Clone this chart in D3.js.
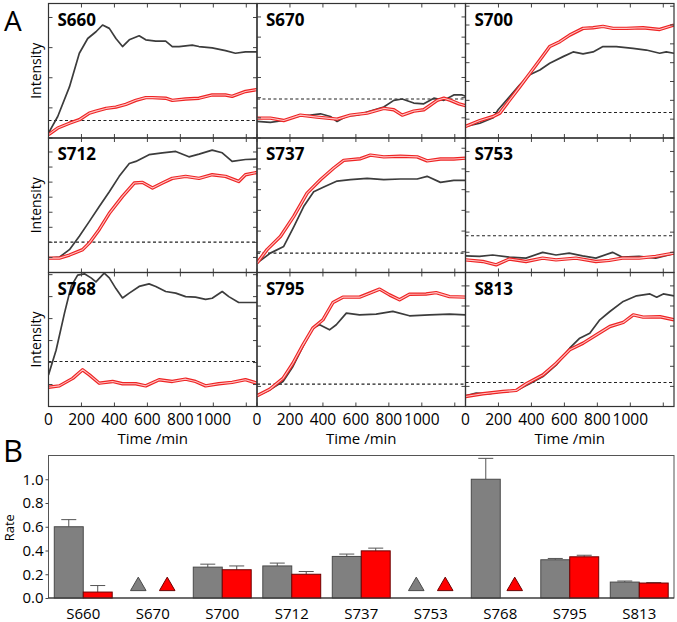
<!DOCTYPE html>
<html><head><meta charset="utf-8">
<script src="https://cdn.jsdelivr.net/npm/d3@7"></script>
<style>body{margin:0;background:#fff}svg{display:block}text{font-family:"Open Sans",sans-serif;fill:#000}</style>
</head><body><svg id="c" width="677" height="622"></svg>
<script>
// ---------- Panel A data (time in min, intensity normalised 0-100 per panel) ----------
const panelNames = ["S660","S670","S700","S712","S737","S753","S768","S795","S813"];
const timeTicks = [0,200,400,600,800,1000,1200];
const timeTickLabels = ["0","200","400","600","800","1000",""];
const thresholds = [13, 29, 19, 22.6, 14.4, 27.3, 33.6, 16.7, 17.9];
const yTickSteps = [22.4, 15, 14, 11.2, 15.4, 15, 16.4, 15, 15];

const grayS660 = [[0,3.7],[56,16],[127,38],[187,63],[238,74],[288,79],[328,84],[369,81.5],[409,74],[449,68],[490,73],[550,76],[590,73],[651,72],[711,72],[751,68],[792,68],[872,69],[913,68],[993,67],[1074,65],[1134,63],[1195,64],[1265,64]];
const redS660 = [[0,2.5],[56,7.4],[127,11],[187,13.6],[248,18.5],[288,20],[349,22],[409,23],[469,25],[530,28],[590,30],[631,30],[711,29.6],[751,28],[832,29],[913,29.6],[993,32],[1074,32],[1114,31],[1195,34.6],[1265,36]];
const grayS670 = [[0,12.3],[81,11.6],[162,13],[243,16],[324,17],[385,18],[445,16],[486,12.3],[547,16.5],[607,17],[688,20],[769,23],[830,28],[881,29],[951,26],[1012,25.4],[1073,29.6],[1134,28],[1194,32],[1245,32],[1265,31]];
const redS670 = [[0,14.8],[81,14.8],[162,13],[263,17],[364,15.5],[486,14],[567,17],[668,18.5],[769,22],[830,21],[881,17],[951,20],[1012,21],[1093,28],[1134,29.6],[1174,28],[1225,25.4],[1265,24]];
const grayS700 = [[0,8.6],[87,11],[168,15],[198,21],[269,31],[329,39.5],[390,47],[451,50.6],[511,55.6],[592,60.5],[653,64],[713,62.5],[774,64],[834,68],[915,68],[1016,66.7],[1097,65.4],[1178,63],[1218,64],[1265,63]];
const redS700 = [[0,8.6],[87,13],[168,16],[208,18.5],[269,28.4],[329,38],[390,48],[451,58],[511,68],[572,71.6],[632,76.5],[713,81.5],[774,82],[834,83],[895,81.5],[976,81.5],[1077,82],[1178,80.7],[1265,84]];
const grayS712 = [[0,10.7],[66,11.4],[127,17],[187,27],[248,38],[308,49],[369,60],[429,71.5],[490,81],[530,82.6],[610,87.6],[691,89],[772,90],[852,86],[913,88],[993,91],[1054,89],[1114,82.6],[1195,84],[1265,84.4]];
const redS712 = [[0,10.7],[66,10.7],[127,13],[207,17],[248,22],[308,32],[369,44],[449,56.6],[520,66.5],[570,67],[631,62.8],[691,66.5],[751,70],[832,71.5],[913,70],[993,72.7],[1074,71.5],[1154,67.7],[1195,72.7],[1265,74.4]];
const grayS737 = [[0,7],[81,14.4],[162,19.4],[223,34],[283,49],[344,60],[405,63.5],[486,68],[567,69],[668,70],[769,69],[870,69.5],[972,69.5],[1032,71.5],[1113,67],[1194,68.5],[1265,68.5]];
const redS737 = [[0,7],[61,17],[142,26.8],[223,41.7],[304,59],[385,69],[466,77.7],[526,83.4],[628,84.6],[688,87.3],[769,86],[870,86.4],[972,86],[1032,83],[1113,84.4],[1194,84.4],[1265,85]];
const grayS753 = [[0,12.4],[85,12],[165,13],[266,11.4],[367,10.7],[468,15],[549,13],[629,14.4],[710,12.4],[791,10.7],[892,15],[952,11.4],[1053,12],[1154,10.7],[1265,14]];
const redS753 = [[0,9.4],[105,8.2],[186,5.7],[266,10],[367,8.2],[468,10.7],[549,9.4],[670,10.7],[791,8.2],[872,9],[952,10.7],[1053,10.7],[1154,12],[1265,14.4]];
const grayS768 = [[0,23.6],[46,42],[97,69.7],[137,89.6],[177,98],[218,99],[258,96],[288,93],[338,99.5],[369,96],[409,88],[449,81],[490,84.6],[550,89.6],[610,91.5],[651,89.6],[711,85.8],[772,84.6],[832,82],[892,81.6],[953,80],[993,80.8],[1054,85.8],[1094,82],[1154,77.6],[1265,77.6]];
const redS768 = [[0,14.4],[66,15.4],[147,21],[207,27.4],[248,23.6],[308,17.4],[389,18.7],[449,17],[530,17],[590,15.4],[671,20],[751,18.7],[832,20.4],[892,18.7],[953,15.4],[1033,17],[1114,18],[1195,20],[1265,17.4]];
const grayS795 = [[0,8],[77,12.4],[158,18.7],[218,29.9],[279,44.8],[339,58.5],[380,61],[440,57.2],[481,61],[542,69.7],[622,68.4],[723,69],[824,71],[925,67.7],[1047,68.4],[1168,69],[1265,68.4]];
const redS795 = [[0,8],[77,12.9],[158,21],[218,32.3],[279,46],[339,58.5],[400,64.7],[461,77.6],[521,81.6],[622,81.6],[683,84.6],[744,87.6],[804,83.3],[865,79.6],[925,83.8],[1026,84],[1087,85],[1168,82],[1265,81.6]];
const grayS813 = [[0,8],[65,10],[146,9.5],[227,11.2],[308,12],[389,17],[470,22.4],[551,31],[632,43.5],[693,51],[754,54.7],[815,64.7],[876,70.9],[957,78.4],[1038,82.6],[1119,84],[1160,81.6],[1200,84],[1265,82.6]];
const redS813 = [[0,7.5],[105,9.5],[227,11.2],[308,12],[369,17],[470,23.6],[551,32.3],[632,42.3],[714,47.3],[795,53.5],[876,59.7],[957,62.7],[1018,68.4],[1078,66.7],[1180,67],[1265,64.7]];

const graySeries = [grayS660,grayS670,grayS700,grayS712,grayS737,grayS753,grayS768,grayS795,grayS813];
const redSeries = [redS660,redS670,redS700,redS712,redS737,redS753,redS768,redS795,redS813];

// ---------- Panel B data ----------
const rateCats = ["S660","S670","S700","S712","S737","S753","S768","S795","S813"];
const grayRate = [0.60, null, 0.26, 0.27, 0.35, null, 1.00, 0.322, 0.134];
const grayErr  = [0.06, null, 0.025, 0.024, 0.02, null, 0.176, 0.011, 0.009];
const redRate  = [0.05, null, 0.238, 0.20, 0.397, null, null, 0.347, 0.126];
const redErr   = [0.055, null, 0.032, 0.023, 0.023, null, null, 0.013, 0.004];
const grayTriangle = [false, true, false, false, false, true, false, false, false];
const redTriangle  = [false, true, false, false, false, true, true, false, false];
const triangleLevel = 0.1;
const rateTicks = [0,0.2,0.4,0.6,0.8,1.0];

const svg = d3.select("#c");
const colX = [48.5, 257, 465.5, 674];
const rowY = [3.5, 138, 272.5, 406.5];

svg.append("text").attr("x",4).attr("y",31).attr("font-size",28)
  .attr("font-family","Liberation Sans, Arial, sans-serif").text("A");
svg.append("text").attr("x",3).attr("y",462).attr("font-size",31)
  .attr("font-family","Liberation Sans, Arial, sans-serif").text("B");

const defs = svg.append("defs");

panelNames.forEach((name,i)=>{
  const c = i%3, r = Math.floor(i/3);
  const x0 = colX[c], x1 = colX[c+1], y0 = rowY[r], y1 = rowY[r+1];
  const x = d3.scaleLinear().domain([0,1265]).range([x0,x1]);
  const y = d3.scaleLinear().domain([0,100]).range([y1,y0]);
  const g = svg.append("g");
  defs.append("clipPath").attr("id","cp"+i).append("rect")
    .attr("x",x0).attr("y",y0).attr("width",x1-x0).attr("height",y1-y0);
  const pg = g.append("g").attr("clip-path","url(#cp"+i+")");
  pg.append("line").attr("x1",x0).attr("x2",x1)
    .attr("y1",y(thresholds[i])).attr("y2",y(thresholds[i]))
    .attr("stroke","#222").attr("stroke-width",1.1).attr("stroke-dasharray","3,2.5");
  const line = d3.line().x(d=>x(d[0])).y(d=>y(d[1])).curve(d3.curveLinear);
  pg.append("path").attr("d",line(graySeries[i])).attr("fill","none")
    .attr("stroke","#3c3c3c").attr("stroke-width",1.7).attr("stroke-linejoin","round");
  pg.append("path").attr("d",line(redSeries[i])).attr("fill","none")
    .attr("stroke","#ee2424").attr("stroke-width",3.4).attr("stroke-linejoin","round");
  pg.append("path").attr("d",line(redSeries[i])).attr("fill","none")
    .attr("stroke","#ffc4c4").attr("stroke-width",1.1).attr("stroke-linejoin","round");
  const tk = 4;
  timeTicks.forEach(t=>{
    g.append("line").attr("x1",x(t)).attr("x2",x(t)).attr("y1",y1).attr("y2",y1-tk).attr("stroke","#444");
    g.append("line").attr("x1",x(t)).attr("x2",x(t)).attr("y1",y0).attr("y2",y0+tk).attr("stroke","#444");
  });
  const yt = d3.range(0,100.01,yTickSteps[i]);
  yt.forEach(v=>{
    g.append("line").attr("x1",x0).attr("x2",x0+tk).attr("y1",y(v)).attr("y2",y(v)).attr("stroke","#444");
    g.append("line").attr("x1",x1).attr("x2",x1-tk).attr("y1",y(v)).attr("y2",y(v)).attr("stroke","#444");
  });
  g.append("rect").attr("x",x0).attr("y",y0).attr("width",x1-x0).attr("height",y1-y0)
    .attr("fill","none").attr("stroke","#333").attr("stroke-width",1.2);
  g.append("text").attr("x",x0+9).attr("y",y0+22).attr("font-size",17).attr("font-weight","bold").text(name);
  if(c===0){
    g.append("text").attr("transform",`translate(${x0-8},${(y0+y1)/2}) rotate(-90)`)
      .attr("text-anchor","middle").attr("font-size",14).text("Intensity");
  }
  if(r===2){
    timeTicks.forEach((t,k)=>{
      g.append("text").attr("x",x(t)).attr("y",y1+18).attr("text-anchor","middle")
        .attr("font-size",15.5).text(timeTickLabels[k]);
    });
    g.append("text").attr("x",(x0+x1)/2).attr("y",y1+37).attr("text-anchor","middle")
      .attr("font-size",15).text("Time /min");
  }
});

// ---------- Panel B ----------
const bx0 = 48.5, bx1 = 674, by0 = 455.5, by1 = 598;
const xb = d3.scaleBand().domain(rateCats).range([bx0,bx1]).paddingInner(0).paddingOuter(0);
const xs = d3.scaleBand().domain(["gray","red"]).range([0,xb.bandwidth()]).paddingInner(0).paddingOuter(0.2);
const yb = d3.scaleLinear().domain([0,1.2]).range([by1,by0]);
const gb = svg.append("g");

gb.append("rect").attr("x",bx0).attr("y",by0).attr("width",bx1-bx0).attr("height",by1-by0)
  .attr("fill","none").attr("stroke","#555").attr("stroke-width",1);

const ax = gb.append("g").attr("transform",`translate(${bx0},0)`)
  .call(d3.axisLeft(yb).tickValues(rateTicks).tickFormat(d3.format(".1f")).tickSize(3).tickPadding(2));
ax.select(".domain").remove();
ax.selectAll("line").attr("stroke","#444");
ax.selectAll("text").attr("font-size",15).attr("font-family","Open Sans, sans-serif").attr("fill","#000");

gb.append("text").attr("transform",`translate(14,${(by0+by1)/2+1}) rotate(-90)`)
  .attr("text-anchor","middle").attr("font-size",13).text("Rate");

const series = [
  {key:"gray", vals:grayRate, errs:grayErr, tri:grayTriangle, fill:"#808080", stroke:"#4a4a4a"},
  {key:"red", vals:redRate, errs:redErr, tri:redTriangle, fill:"#ff0000", stroke:"#6e0000"}
];
series.forEach(s=>{
  rateCats.forEach((cat,i)=>{
    const bx = xb(cat)+xs(s.key), bw = xs.bandwidth();
    if(s.vals[i]!==null){
      const v = s.vals[i], e = s.errs[i];
      gb.append("line").attr("x1",bx+bw/2).attr("x2",bx+bw/2).attr("y1",yb(v)).attr("y2",yb(v+e))
        .attr("stroke","#555").attr("stroke-width",1);
      gb.append("line").attr("x1",bx+bw/2-7.5).attr("x2",bx+bw/2+7.5).attr("y1",yb(v+e)).attr("y2",yb(v+e))
        .attr("stroke","#555").attr("stroke-width",1);
      gb.append("rect").attr("x",bx).attr("y",yb(v)).attr("width",bw).attr("height",yb(0)-yb(v))
        .attr("fill",s.fill).attr("stroke",s.stroke).attr("stroke-width",1);
    } else if(s.tri[i]){
      gb.append("path").attr("transform",`translate(${bx+bw/2},${yb(triangleLevel)})`)
        .attr("d",d3.symbol().type(d3.symbolTriangle).size(105)())
        .attr("fill",s.fill).attr("stroke",s.stroke).attr("stroke-width",1);
    }
  });
});

gb.append("line").attr("x1",bx0).attr("x2",bx1).attr("y1",by1).attr("y2",by1).attr("stroke","#333").attr("stroke-width",1.2);

rateCats.forEach(cat=>{
  gb.append("text").attr("x",xb(cat)+xb.bandwidth()/2).attr("y",619).attr("text-anchor","middle")
    .attr("font-size",15).text(cat);
});
</script></body></html>
